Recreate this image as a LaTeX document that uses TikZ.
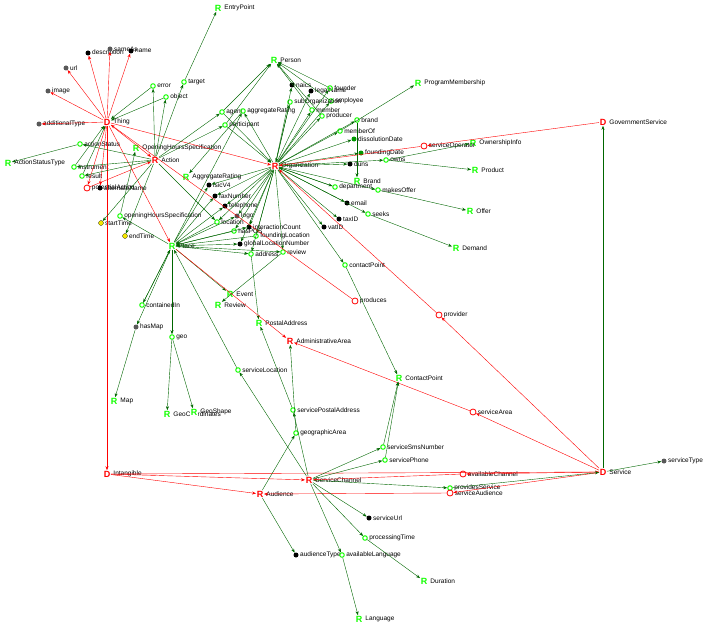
\documentclass[tikz,border=0pt]{standalone}
\usepackage{fontspec}
\setmainfont{Liberation Sans}
\usetikzlibrary{arrows.meta}
\tikzset{
  lbl/.style={font=\fontsize{6.5}{7}\selectfont},
  prop/.style={shape=circle,draw=green!90!lime,line width=1pt,inner sep=0pt,minimum size=4.5pt,label={[lbl,xshift=-2pt]right:#1}},
  dat/.style={shape=circle,fill=black,inner sep=0pt,minimum size=5pt,label={[lbl,xshift=-2pt]right:#1}},
  gry/.style={shape=circle,fill=gray!70!black,inner sep=0pt,minimum size=5pt,label={[lbl,xshift=-2pt]right:#1}},
  ylw/.style={shape=circle,fill=yellow!90!olive,draw=black,line width=0.2pt,inner sep=0pt,minimum size=5pt,label={[lbl,xshift=-2pt]right:#1}},
  gdot/.style={shape=circle,fill=green!60!black,inner sep=0pt,minimum size=5pt,label={[lbl,xshift=-2pt]right:#1}},
  rng/.style={inner sep=0.5pt,fill=white,text=green!90!lime,font=\bfseries\fontsize{9}{9}\selectfont,label={[lbl,xshift=-1pt]right:#1}},
  cls/.style={inner sep=0.5pt,fill=white,text=red,font=\bfseries\fontsize{9}{9}\selectfont,label={[lbl,xshift=-1pt]right:#1}},
  obj/.style={shape=circle,draw=red,line width=0.8pt,inner sep=0pt,minimum size=6pt,label={[lbl,xshift=-2pt]right:#1}},
  g/.style={draw=green!40!black,-{Stealth[length=4pt]}},
  r/.style={draw=red,-{Stealth[length=4pt]}},
}
\begin{document}
\begin{tikzpicture}[x=1pt,y=-1pt]
    \useasboundingbox (0,0) rectangle (718,626);
    \node[cls=Thing] (Thing) at (107,122) {D};
    \node[dat=description] (description) at (88,53) {};
    \node[gry=sameAs] (sameAs) at (110,49) {};
    \node[dat=name] (name) at (131,51) {};
    \node[gry=url] (url) at (66,68) {};
    \node[gry=image] (image) at (48,91) {};
    \node[gry=additionalType] (additionalType) at (39,124) {};
    \node[prop=actionStatus] (actionStatus) at (80,144) {};
    \node[rng=ActionStatusType] (ActionStatusType) at (8,163) {R};
    \node[prop=instrument] (instrument) at (74,167) {};
    \node[prop=result] (result) at (82,176) {};
    \node[obj=potentialAction] (potentialAction) at (87,188) {};
    \node[dat=alternateName] (alternateName) at (100,188) {};
    \node[prop=error] (error) at (153,86) {};
    \node[prop=object] (object) at (166,97) {};
    \node[prop=target] (target) at (184,82) {};
    \node[rng=EntryPoint] (EntryPoint) at (218,8) {R};
    \node[cls=Action] (Action) at (155,160) {R};
    \node[rng=OpeningHoursSpecification] (OpeningHoursSpecification) at (136,148) {R};
    \node[ylw=startTime] (startTime) at (101,223) {};
    \node[ylw=endTime] (endTime) at (125,236) {};
    \node[prop=openingHoursSpecification] (openingHoursSpecification) at (120,216) {};
    \node[rng=Place] (Place) at (172,246) {R};
    \node[prop=agent] (agent) at (222,112) {};
    \node[prop=participant] (participant) at (225,125) {};
    \node[prop=aggregateRating] (aggregateRating) at (243,111) {};
    \node[rng=Person] (Person) at (274,60) {R};
    \node[cls=Organization] (Organization) at (275,166) {R};
    \node[dat=naics] (naics) at (292,85) {};
    \node[dat=legalName] (legalName) at (311,91) {};
    \node[prop=founder] (founder) at (330,88) {};
    \node[prop=employee] (employee) at (331,101) {};
    \node[prop=subOrganization] (subOrganization) at (290,102) {};
    \node[prop=member] (member) at (312,110) {};
    \node[prop=producer] (producer) at (322,116) {};
    \node[prop=brand] (brand) at (357,120) {};
    \node[prop=memberOf] (memberOf) at (340,131) {};
    \node[gdot=dissolutionDate] (dissolutionDate) at (354,139) {};
    \node[gdot=foundingDate] (foundingDate) at (361,153) {};
    \node[dat=duns] (duns) at (350,164) {};
    \node[prop=owns] (owns) at (386,160) {};
    \node[rng=Brand] (Brand) at (357,181) {R};
    \node[prop=department] (department) at (335,187) {};
    \node[prop=makesOffer] (makesOffer) at (378,190) {};
    \node[dat=email] (email) at (347,203) {};
    \node[prop=seeks] (seeks) at (368,214) {};
    \node[dat=taxID] (taxID) at (339,219) {};
    \node[dat=vatID] (vatID) at (324,227) {};
    \node[rng=Demand] (Demand) at (456,248) {R};
    \node[rng=Offer] (Offer) at (470,211) {R};
    \node[rng=Product] (Product) at (475,170) {R};
    \node[rng=ProgramMembership] (ProgramMembership) at (418,83) {R};
    \node[rng=OwnershipInfo] (OwnershipInfo) at (473,143) {R};
    \node[obj=serviceOperator] (serviceOperator) at (424,146) {};
    \node[cls=GovernmentService] (GovernmentService) at (603,122) {D};
    \node[rng=AggregateRating] (AggregateRating) at (186,177) {R};
    \node[dat=isicV4] (isicV4) at (209,185) {};
    \node[dat=faxNumber] (faxNumber) at (215,196) {};
    \node[dat=telephone] (telephone) at (225,206) {};
    \node[gry=logo] (logo) at (237,216) {};
    \node[prop=location] (location) at (217,222) {};
    \node[dat=interactionCount] (interactionCount) at (249,227) {};
    \node[prop=hasPOS] (hasPOS) at (234,231) {};
    \node[prop=foundingLocation] (foundingLocation) at (256,236) {};
    \node[dat=globalLocationNumber] (globalLocationNumber) at (240,244) {};
    \node[prop=address] (address) at (251,254) {};
    \node[prop=review] (review) at (283,252) {};
    \node[prop=contactPoint] (contactPoint) at (345,265) {};
    \node[rng=Event] (Event) at (230,294) {R};
    \node[rng=Review] (Review) at (218,305) {R};
    \node[rng=PostalAddress] (PostalAddress) at (259,323) {R};
    \node[prop=containedIn] (containedIn) at (142,305) {};
    \node[gry=hasMap] (hasMap) at (136,327) {};
    \node[prop=geo] (geo) at (172,337) {};
    \node[obj=produces] (produces) at (355,301) {};
    \node[obj=provider] (provider) at (439,315) {};
    \node[cls=AdministrativeArea] (AdministrativeArea) at (290,341) {R};
    \node[rng=Map] (Map) at (114,401) {R};
    \node[rng=GeoCoordinates] (GeoCoordinates) at (167,414) {R};
    \node[rng=GeoShape] (GeoShape) at (194,412) {R};
    \node[prop=serviceLocation] (serviceLocation) at (238,370) {};
    \node[rng=ContactPoint] (ContactPoint) at (399,378) {R};
    \node[prop=servicePostalAddress] (servicePostalAddress) at (293,410) {};
    \node[obj=serviceArea] (serviceArea) at (473,412) {};
    \node[prop=geographicArea] (geographicArea) at (296,433) {};
    \node[prop=serviceSmsNumber] (serviceSmsNumber) at (383,447) {};
    \node[prop=servicePhone] (servicePhone) at (385,460) {};
    \node[cls=Intangible] (Intangible) at (107,474) {D};
    \node[cls=ServiceChannel] (ServiceChannel) at (309,480) {R};
    \node[obj=availableChannel] (availableChannel) at (463,474) {};
    \node[prop=providesService] (providesService) at (450,488) {};
    \node[obj=serviceAudience] (serviceAudience) at (450,493) {};
    \node[cls=Service] (Service) at (603,472) {D};
    \node[gry=serviceType] (serviceType) at (664,461) {};
    \node[cls=Audience] (Audience) at (260,494) {R};
    \node[dat=serviceUrl] (serviceUrl) at (369,518) {};
    \node[prop=processingTime] (processingTime) at (365,538) {};
    \node[dat=audienceType] (audienceType) at (296,555) {};
    \node[prop=availableLanguage] (availableLanguage) at (342,555) {};
    \node[rng=Duration] (Duration) at (424,581) {R};
    \node[rng=Language] (Language) at (359,619) {R};
    % Thing
    \foreach \p in {description,sameAs,name,url,image,additionalType,alternateName,potentialAction}
        \draw[r] (Thing) -- (\p);
    \draw[r] (Thing) -- (Action);
    \draw[r] (Thing) -- (Organization);
    \draw[r] (Thing) -- (Place);
    \draw[r] (Thing) -- (Intangible);
    \draw[r] (potentialAction) -- (Action);
    % Action
    \foreach \p in {error,object,target,actionStatus,instrument,result,agent,participant,startTime,endTime,location}
        \draw[g] (Action) -- (\p);
    \foreach \p in {error,object,instrument,result}
        \draw[g] (\p) -- (Thing);
    \draw[g] (target) -- (EntryPoint);
    \draw[g] (actionStatus) -- (ActionStatusType);
    \draw[g] (agent) -- (Person);
    \draw[g] (agent) -- (Organization);
    \draw[g] (participant) -- (Person);
    \draw[g] (participant) -- (Organization);
    % Organization
    \foreach \p in {naics,legalName,founder,employee,subOrganization,member,producer,brand,memberOf,dissolutionDate,foundingDate,duns,owns,department,makesOffer,email,seeks,taxID,vatID,isicV4,faxNumber,telephone,logo,location,interactionCount,hasPOS,foundingLocation,globalLocationNumber,address,review,contactPoint,aggregateRating}
        \draw[g] (Organization) -- (\p);
    \foreach \p in {founder,employee,member,producer}
        \draw[g] (\p) -- (Person);
    \draw[g] (subOrganization) -- (Organization);
    \draw[g] (department) -- (Organization);
    \draw[g] (brand) -- (Brand);
    \draw[g] (memberOf) -- (ProgramMembership);
    \draw[g] (owns) -- (Product);
    \draw[g] (owns) -- (OwnershipInfo);
    \draw[g] (makesOffer) -- (Offer);
    \draw[g] (seeks) -- (Demand);
    \draw[g] (aggregateRating) -- (AggregateRating);
    \draw[g] (review) -- (Review);
    \draw[g] (address) -- (PostalAddress);
    \draw[g] (contactPoint) -- (ContactPoint);
    \foreach \p in {location,hasPOS,foundingLocation}
        \draw[g] (\p) -- (Place);
    % Place
    \foreach \p in {openingHoursSpecification,containedIn,hasMap,geo,isicV4,faxNumber,telephone,logo,globalLocationNumber,address,review,aggregateRating,interactionCount}
        \draw[g] (Place) -- (\p);
    \draw[g] (Place) -- (Event);
    \draw[g] (openingHoursSpecification) -- (OpeningHoursSpecification);
    \draw[g] (containedIn) -- (Place);
    \draw[g] (hasMap) -- (Map);
    \draw[g] (geo) -- (GeoCoordinates);
    \draw[g] (geo) -- (GeoShape);
    \draw[r] (Place) -- (AdministrativeArea);
    % Service
    \draw[g] (Service) -- (serviceType);
    \draw[g] (Service) -- (GovernmentService);
    \draw[r] (GovernmentService) -- (serviceOperator);
    \draw[r] (serviceOperator) -- (Organization);
    \draw[r] (Service) -- (provider);
    \draw[r] (provider) -- (Organization);
    \draw[r] (Service) -- (serviceArea);
    \draw[r] (serviceArea) -- (AdministrativeArea);
    \draw[r] (produces) -- (Thing);
    \draw[r] (Service) -- (availableChannel);
    \draw[r] (availableChannel) -- (ServiceChannel);
    \draw[r] (Service) -- (serviceAudience);
    \draw[r] (serviceAudience) -- (Audience);
    \draw[r] (Intangible) -- (Service);
    \draw[r] (Intangible) -- (ServiceChannel);
    \draw[r] (Intangible) -- (Audience);
    % ServiceChannel
    \foreach \p in {serviceLocation,servicePostalAddress,serviceSmsNumber,servicePhone,serviceUrl,processingTime,availableLanguage,providesService}
        \draw[g] (ServiceChannel) -- (\p);
    \draw[g] (serviceLocation) -- (Place);
    \draw[g] (servicePostalAddress) -- (PostalAddress);
    \draw[g] (serviceSmsNumber) -- (ContactPoint);
    \draw[g] (servicePhone) -- (ContactPoint);
    \draw[g] (processingTime) -- (Duration);
    \draw[g] (availableLanguage) -- (Language);
    \draw[g] (providesService) -- (Service);
    % Audience
    \draw[g] (Audience) -- (geographicArea);
    \draw[g] (Audience) -- (audienceType);
    \draw[g] (geographicArea) -- (AdministrativeArea);
\end{tikzpicture}
\end{document}
